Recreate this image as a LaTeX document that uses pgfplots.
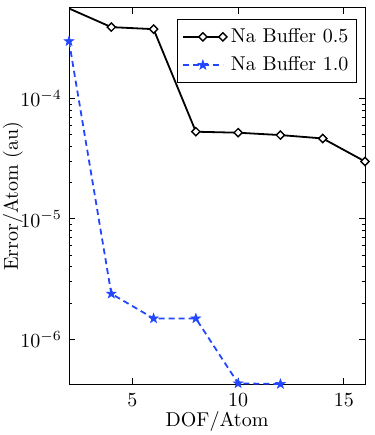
\documentclass[border=0pt]{standalone}
\usepackage{pgfplots}
\pgfplotsset{compat=1.18}

\definecolor{bufblue}{RGB}{35,70,255}

% filled five-pointed star, like MATLAB's pentagram marker
\pgfdeclareplotmark{pentastar}{%
  \pgfpathmoveto{\pgfpointpolar{90}{\pgfplotmarksize}}%
  \pgfpathlineto{\pgfpointpolar{126}{0.40\pgfplotmarksize}}%
  \pgfpathlineto{\pgfpointpolar{162}{\pgfplotmarksize}}%
  \pgfpathlineto{\pgfpointpolar{198}{0.40\pgfplotmarksize}}%
  \pgfpathlineto{\pgfpointpolar{234}{\pgfplotmarksize}}%
  \pgfpathlineto{\pgfpointpolar{270}{0.40\pgfplotmarksize}}%
  \pgfpathlineto{\pgfpointpolar{306}{\pgfplotmarksize}}%
  \pgfpathlineto{\pgfpointpolar{342}{0.40\pgfplotmarksize}}%
  \pgfpathlineto{\pgfpointpolar{18}{\pgfplotmarksize}}%
  \pgfpathlineto{\pgfpointpolar{54}{0.40\pgfplotmarksize}}%
  \pgfpathclose
  \pgfusepathqfillstroke
}

\begin{document}
\begin{tikzpicture}
\begin{axis}[
    scale only axis,
    width=148pt, height=188pt,
    ymode=log,
    xmin=2, xmax=16,
    ymin=4.25e-7, ymax=5.65e-4,
    xtick={5,10,15},
    ytick={1e-6,1e-5,1e-4},
    tick align=inside,
    xtick pos=both, ytick pos=both,
    major tick length=3pt, minor tick length=1.6pt,
    tick style={black, line width=0.4pt},
    axis line style={line width=0.5pt},
    xticklabel style={yshift=-1.5pt},
    xlabel={DOF/Atom}, ylabel={Error/Atom (au)},
    xlabel style={at={(axis description cs:0.5,0)}, anchor=center, yshift=-18.5pt},
    ylabel style={at={(axis description cs:0,0.5)}, anchor=center, yshift=28pt},
    legend style={at={(0.973,0.971)}, anchor=north east, draw=black,
        line width=0.5pt, font=\normalsize, inner xsep=2pt, inner ysep=2.5pt,
        row sep=1.5pt, cells={anchor=west}},
    legend cell align=left,
    legend image code/.code={%
        \draw[mark repeat=2, mark phase=2]
        plot coordinates {(0pt,0pt) (10pt,0pt) (20pt,0pt)};},
]
\coordinate (sw) at (rel axis cs:0,0);
\coordinate (ne) at (rel axis cs:1,1);
\addplot[black, line width=0.9pt, mark=square*, mark options={fill=white, solid, rotate=45, line width=0.7pt}, mark size=1.45pt,
    mark indices={2,3,4,5,6,7,8}] coordinates {
    (2,5.6e-4) (4,3.92e-4) (6,3.77e-4) (8,5.3e-5)
    (10,5.2e-5) (12,4.97e-5) (14,4.66e-5) (16,3.0e-5)
};
\addlegendentry{Na Buffer 0.5}
\addplot[bufblue, line width=0.9pt, dash pattern=on 3pt off 2pt, mark=pentastar, mark options={solid, fill=bufblue, line width=0.3pt}, mark size=2.5pt] coordinates {
    (2,2.99e-4) (4,2.39e-6) (6,1.49e-6) (8,1.49e-6)
    (10,4.3e-7) (12,4.25e-7)
};
\addlegendentry{Na Buffer 1.0}
\end{axis}
\pgfresetboundingbox
\path ([xshift=-34.5pt,yshift=-25.5pt]sw) rectangle ([xshift=4.5pt,yshift=4pt]ne);
\end{tikzpicture}
\end{document}
